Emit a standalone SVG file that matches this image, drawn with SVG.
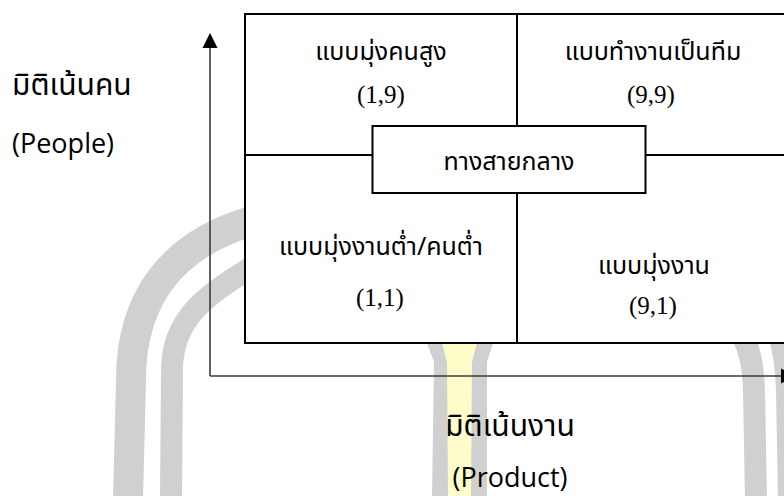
<svg xmlns="http://www.w3.org/2000/svg" width="784" height="496" viewBox="0 0 784 496">
  <style>
    .wm { fill: none; stroke: #d0d0d0; }
    .cell { fill: #ffffff; stroke: #000000; stroke-width: 2; }
    .ln { stroke: #000000; stroke-width: 2; fill: none; }
    .axis { stroke: #3a3a3a; stroke-width: 1.6; fill: none; }
    .th { font-family: 'Noto Sans Thai', 'Noto Sans Thai UI', 'Leelawadee UI', Tahoma, 'Noto Sans', sans-serif; font-size: 25px; fill: #000000; }
    .big { font-size: 30px; }
    .lat { font-family: 'Open Sans', 'Noto Sans', sans-serif; font-size: 27px; fill: #000000; }
    .num { font-family: 'Liberation Serif', 'Times New Roman', serif; font-size: 25px; fill: #000000; }
    .mid { text-anchor: middle; }
  </style>
  <defs>
    <marker id="arrow" markerUnits="userSpaceOnUse" markerWidth="16" markerHeight="16" viewBox="0 0 16 16" refX="1" refY="8" orient="auto">
      <path d="M0,0.5 L15,8 L0,15.5 Z" fill="#000000"/>
    </marker>
  </defs>

  <rect x="0" y="0" width="784" height="496" fill="#ffffff"/>

  <!-- watermark background -->
  <g id="watermark">
    <path class="wm" stroke-width="30" d="M128,500 L131,380 C131,300 170,245 252,221"/>
    <path class="wm" stroke-width="22" d="M171,500 L172,370 C172,320 205,295 252,267"/>
    <polygon points="427,343 493,343 487,362 487,496 432,496 434,362" fill="#d0d0d0"/>
    <polygon points="442,343 477,343 472,362 471,496 448,496 447,362" fill="#fefcc9"/>
    <path class="wm" stroke-width="22" d="M756,500 L754,390 C753,365 750,350 742,335"/>
    <path class="wm" stroke-width="30" d="M793,500 L791,390 C790,365 788,350 783,335"/>
  </g>

  <!-- grid of styles -->
  <g id="grid">
    <rect class="cell" x="245" y="14" width="544" height="329"/>
    <line class="ln" x1="517" y1="14" x2="517" y2="343"/>
    <line class="ln" x1="245" y1="155" x2="789" y2="155"/>
  </g>

  <g id="q-1-9">
    <text class="th mid" x="381" y="60">แบบมุ่งคนสูง</text>
    <text class="num mid" x="381" y="103">(1,9)</text>
  </g>
  <g id="q-9-9">
    <text class="th mid" x="653" y="60">แบบทำงานเป็นทีม</text>
    <text class="num mid" x="651" y="103">(9,9)</text>
  </g>
  <g id="q-1-1">
    <text class="th mid" x="381" y="255">แบบมุ่งงานต่ำ/คนต่ำ</text>
    <text class="num mid" x="380" y="306" font-size="28">(1,1)</text>
  </g>
  <g id="q-9-1">
    <text class="th mid" x="654" y="274">แบบมุ่งงาน</text>
    <text class="num mid" x="653" y="314" font-size="24">(9,1)</text>
  </g>
  <g id="center">
    <rect class="cell" x="372.5" y="126" width="273" height="67"/>
    <text class="th mid" x="509" y="170">ทางสายกลาง</text>
  </g>

  <!-- axes -->
  <g id="connectors">
    <line class="axis" x1="210" y1="376" x2="210" y2="47" marker-end="url(#arrow)"/>
    <line class="axis" x1="210" y1="376" x2="782" y2="376" marker-end="url(#arrow)"/>
  </g>

  <g id="label-people">
    <text class="th big" x="12" y="95">มิติเน้นคน</text>
    <text class="lat" x="12" y="153">(People)</text>
  </g>
  <g id="label-product">
    <text class="th big mid" x="510" y="436">มิติเน้นงาน</text>
    <text class="lat mid" x="510" y="487">(Product)</text>
  </g>
</svg>
